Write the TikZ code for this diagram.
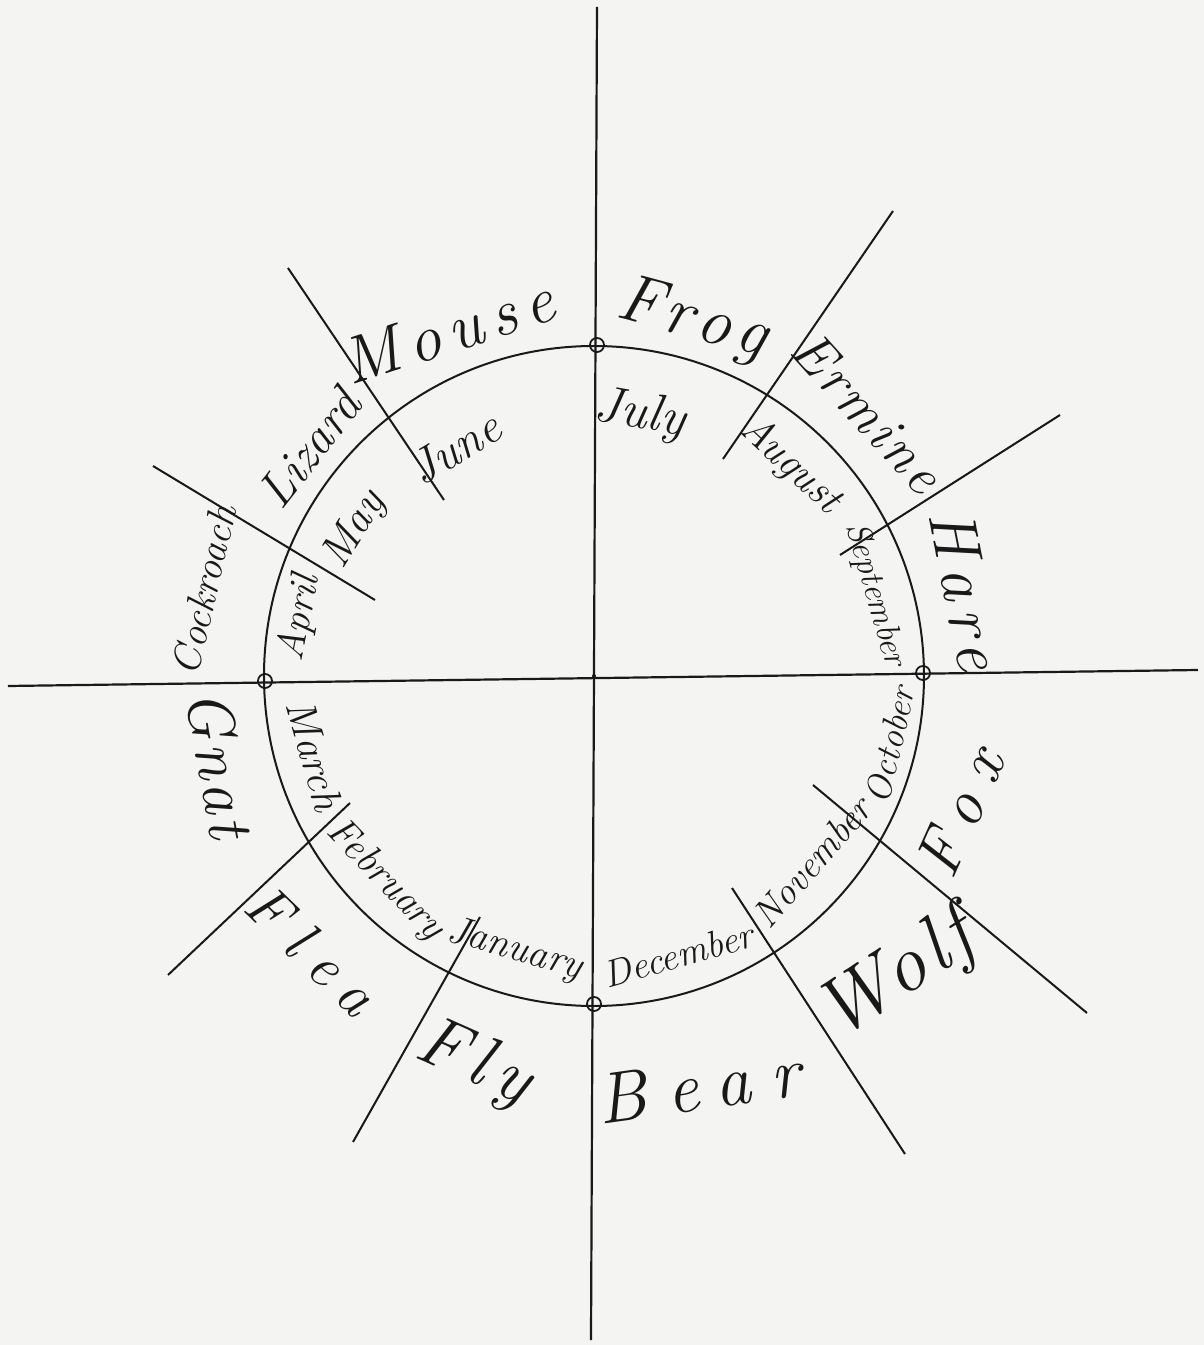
\documentclass[tikz,border=0pt]{standalone}
\usepackage{fontspec}
\setmainfont{Latin Modern Roman}
\newfontfamily\handA{Latin Modern Roman}[LetterSpace=0]
\newfontfamily\handB{Latin Modern Roman}[LetterSpace=6]
\newfontfamily\handC{Latin Modern Roman}[LetterSpace=14]
\newfontfamily\handD{Latin Modern Roman}[LetterSpace=28]
\definecolor{paper}{RGB}{244,244,243}
\definecolor{ink}{RGB}{25,25,25}
\tikzset{
  axisline/.style={line width=1.1pt, draw=ink},
  ray/.style={line width=1pt, draw=ink},
  rim/.style={draw=ink, circle, line width=1pt, minimum size=330pt, inner sep=0pt},
  ringmark/.style={draw=ink, circle, line width=0.9pt, minimum size=7pt, inner sep=0pt},
  lbl/.style={text=ink, inner sep=0pt},
}
\newcommand{\sz}[1]{\fontsize{#1}{#1}\selectfont\itshape}
\begin{document}
\begin{tikzpicture}[x=0.5pt,y=0.5pt]
\fill[paper] (-594,-669) rectangle (610,676);
\useasboundingbox (-594,-669) rectangle (610,676);

% axes
\coordinate (N) at (3,669);
\coordinate (S) at (-3,-664);
\coordinate (W) at (-586,-10);
\coordinate (E) at (604,6);
\draw[axisline] (N) -- (S);
\draw[axisline] (W) -- (E);

% circle
\node[rim] (wheel) at (0,0) {};

% ring marks at the axis crossings
\node[ringmark] (mN) at (3,331) {};
\node[ringmark] (mW) at (-329,-5) {};
\node[ringmark] (mE) at (329,3) {};
\node[ringmark] (mS) at (0,-328) {};
\fill[ink] (0,0) circle[radius=2];

% radial dividers
\coordinate (r1a) at (-150,176);  \coordinate (r1b) at (-306,408);
\coordinate (r2a) at (-219,76);   \coordinate (r2b) at (-441,210);
\coordinate (r3a) at (129,217);   \coordinate (r3b) at (299,465);
\coordinate (r4a) at (246,121);   \coordinate (r4b) at (466,261);
\coordinate (r5a) at (219,-109);  \coordinate (r5b) at (493,-337);
\coordinate (r6a) at (138,-212);  \coordinate (r6b) at (311,-478);
\coordinate (r7a) at (-114,-241); \coordinate (r7b) at (-241,-466);
\coordinate (r8a) at (-244,-127); \coordinate (r8b) at (-426,-299);
\foreach \i in {1,...,8} \draw[ray] (r\i a) -- (r\i b);

% animals (outside)
\node[lbl, rotate=-15, font=\handC\sz{34}] (frog) at (98,355) {Frog};
\node[lbl, rotate=18, font=\handC\sz{33}] (mouse) at (-146,345) {Mouse};
\node[lbl, rotate=52, font=\handA\sz{25}] (lizard) at (-285,228) {Lizard};
\node[lbl, rotate=77, font=\handA\sz{20}] (cockroach) at (-390,86) {Cockroach};
\node[lbl, rotate=-48, font=\handB\sz{28}] (ermine) at (274,264) {Ermine};
\node[lbl, rotate=-79, font=\handC\sz{33}] (hare) at (372,86) {Hare};
\node[lbl, rotate=66, font=\handD\sz{32}] (fox) at (366,-136) {Fox};
\node[lbl, rotate=33, font=\handB\sz{40}] (wolf) at (303,-302) {Wolf};
\node[lbl, rotate=8, font=\handD\sz{36}] (bear) at (104,-410) {Bear};
\node[lbl, rotate=-24, font=\handC\sz{36}] (fly) at (-120,-388) {Fly};
\node[lbl, rotate=-44, font=\handD\sz{30}] (flea) at (-282,-274) {Flea};
\node[lbl, rotate=-80, font=\handB\sz{32}] (gnat) at (-374,-88) {Gnat};

% months (inside)
\node[lbl, rotate=-10, font=\handA\sz{26}] (jul) at (46,261) {July};
\node[lbl, rotate=31, font=\handA\sz{24}] (jun) at (-139,228) {June};
\node[lbl, rotate=58, font=\handA\sz{22}] (may) at (-239,146) {May};
\node[lbl, rotate=79, font=\handA\sz{20}] (apr) at (-294,58) {April};
\node[lbl, rotate=-74, font=\handA\sz{21}] (mar) at (-279,-79) {March};
\node[lbl, rotate=-46, font=\handA\sz{20}] (feb) at (-209,-204) {February};
\node[lbl, rotate=-16, font=\handA\sz{20}] (jan) at (-79,-274) {January};
\node[lbl, rotate=16, font=\handA\sz{19}] (dec) at (84,-279) {December};
\node[lbl, rotate=49, font=\handA\sz{19}] (nov) at (218,-186) {November};
\node[lbl, rotate=77, font=\handA\sz{18}] (oct) at (296,-69) {October};
\node[lbl, rotate=-74, font=\handA\sz{17}] (sep) at (281,81) {September};
\node[lbl, rotate=-43, font=\handA\sz{21}] (aug) at (196,211) {August};
\end{tikzpicture}
\end{document}
